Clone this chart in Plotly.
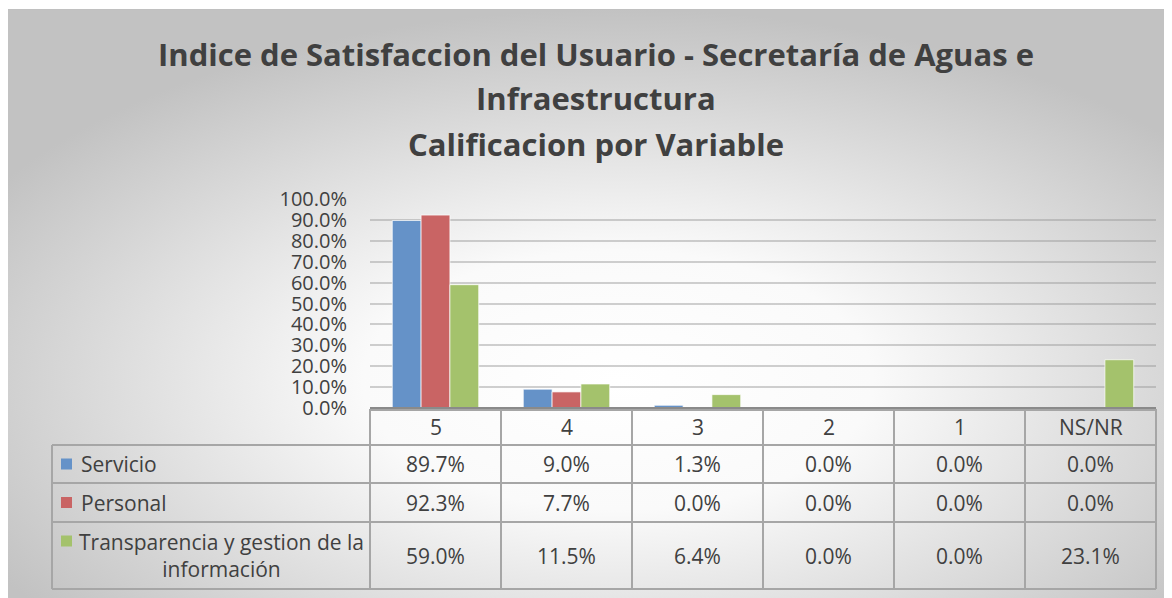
import base64
import plotly.graph_objects as go

categories = ["5", "4", "3", "2", "1", "NS/NR"]
series_names = ["Servicio", "Personal", "Transparencia y gestion de la<br>información"]
servicio = [0.897, 0.090, 0.013, 0.0, 0.0, 0.0]
personal = [0.923, 0.077, 0.0, 0.0, 0.0, 0.0]
transparencia = [0.590, 0.115, 0.064, 0.0, 0.0, 0.231]
colors = ["#6592c8", "#c96464", "#a4c26c"]
title_lines = ["Indice de Satisfaccion del Usuario - Secretaría de Aguas e",
               "Infraestructura",
               "Calificacion por Variable"]

W, H = 1172, 598
OFF = 8  # page offset of the figure (body margin)
L, R, T, B = 370 - OFF, 1156 - OFF, 199 - OFF, 408 - OFF
pw, ph = R - L, B - T

def px(x):
    # x given in screenshot pixels
    return (x - OFF - L) / pw

def py(y):
    return (B - (y - OFF)) / ph

FONT = "Open Sans"
TXT = "#404040"
FS = 21

fig = go.Figure()
for name, vals, col in zip(series_names, [servicio, personal, transparencia], colors):
    fig.add_trace(go.Bar(x=categories, y=vals, name=name,
                         marker=dict(color=col, line=dict(color="rgba(255,255,255,0.7)", width=1)),
                         showlegend=False))

# background gradient
svg = (f'<svg xmlns="http://www.w3.org/2000/svg" width="{W}" height="{H}">'
       '<defs><radialGradient id="g" cx="52%" cy="62%" r="62%">'
       '<stop offset="0" stop-color="#ffffff"/><stop offset="0.35" stop-color="#fafafa"/>'
       '<stop offset="1" stop-color="#c2c2c2"/></radialGradient></defs>'
       f'<rect x="0" y="0" width="{W}" height="{H}" fill="#ffffff"/>'
       f'<rect x="-1.5" y="1.5" width="{W + 4}" height="{H}" fill="url(#g)" stroke="#c0c0c0" stroke-width="1"/></svg>')
src = "data:image/svg+xml;base64," + base64.b64encode(svg.encode()).decode()

shapes = []
annotations = []

# table geometry (screenshot pixels)
tbl_left = 52
row_lines = [409, 445, 483, 522, 589]
line_col = "#a6a6a6"
for yl in row_lines[1:]:
    shapes.append(dict(type="line", xref="paper", yref="paper", x0=px(tbl_left), x1=1, y0=py(yl), y1=py(yl),
                       line=dict(color=line_col, width=2)))
shapes.append(dict(type="line", xref="paper", yref="paper", x0=px(tbl_left), x1=px(tbl_left), y0=py(445), y1=py(589),
                   line=dict(color=line_col, width=2)))
for i in range(len(categories) + 1):
    xv = i / len(categories)
    shapes.append(dict(type="line", xref="paper", yref="paper", x0=xv, x1=xv, y0=py(409), y1=py(589),
                       line=dict(color=line_col, width=2)))
shapes.append(dict(type="line", xref="paper", yref="paper", x0=0, x1=1, y0=py(410), y1=py(410),
                   line=dict(color=line_col, width=2)))
# axis line
shapes.append(dict(type="line", xref="paper", yref="paper", x0=0, x1=1, y0=0, y1=0, line=dict(color="#8a8a8a", width=2)))

# header labels
for i, c in enumerate(categories):
    annotations.append(dict(x=i, xref="x", y=py(427), yref="paper", text=c, showarrow=False,
                            font=dict(family=FONT, size=FS, color=TXT), xanchor="center", yanchor="middle"))

# rows
row_centers = [(445 + 483) / 2, (483 + 522) / 2, (522 + 589) / 2]
for vals, yc in zip([servicio, personal, transparencia], row_centers):
    for i, v in enumerate(vals):
        annotations.append(dict(x=i, xref="x", y=py(yc), yref="paper", text=f"{v:.1%}", showarrow=False,
                                font=dict(family=FONT, size=FS, color=TXT), xanchor="center", yanchor="middle"))

# row labels with swatches
label_pos = [(79, row_centers[0], "left"), (79, row_centers[1], "left"), (221, row_centers[2], "center")]
sw_y = [row_centers[0], row_centers[1], 541]
for (lx, ly, anc), name, col, sy in zip(label_pos, series_names, colors, sw_y):
    annotations.append(dict(x=px(lx), xref="paper", y=py(ly), yref="paper", text=name, showarrow=False, align="center",
                            font=dict(family=FONT, size=FS, color=TXT), xanchor=anc, yanchor="middle"))
    shapes.append(dict(type="rect", xref="paper", yref="paper", x0=px(61), x1=px(72), y0=py(sy - 5.5), y1=py(sy + 5.5),
                       fillcolor=col, line=dict(width=0)))

# title lines
for txt, yy in zip(title_lines, [54, 98, 144]):
    annotations.append(dict(x=px(596), xref="paper", y=py(yy), yref="paper", text=f"<b>{txt}</b>", showarrow=False,
                            font=dict(family=FONT, size=31, color=TXT), xanchor="center", yanchor="middle"))

fig.update_layout(
    width=W, height=H,
    margin=dict(l=L, r=W - R, t=T, b=H - B),
    paper_bgcolor="white", plot_bgcolor="rgba(0,0,0,0)",
    barmode="group", bargap=0.34, bargroupgap=0,
    images=[dict(source=src, xref="paper", yref="paper", x=-L / pw, y=1 + T / ph, sizex=W / pw, sizey=H / ph,
                 sizing="stretch", xanchor="left", yanchor="top", layer="below")],
    xaxis=dict(type="category", showticklabels=False, showgrid=False, zeroline=False, showline=False, range=[-0.5, 5.5]),
    yaxis=dict(range=[0, 1.0], dtick=0.1, tickformat=".1%", showgrid=True, gridcolor="rgba(150,150,150,0.45)",
               gridwidth=1.5, zeroline=False, showline=False,
               tickfont=dict(family=FONT, size=20, color=TXT), ticks="", ticklabelstandoff=22),
    shapes=shapes, annotations=annotations,
    font=dict(family=FONT, color=TXT),
)
fig.write_html("out.html")
